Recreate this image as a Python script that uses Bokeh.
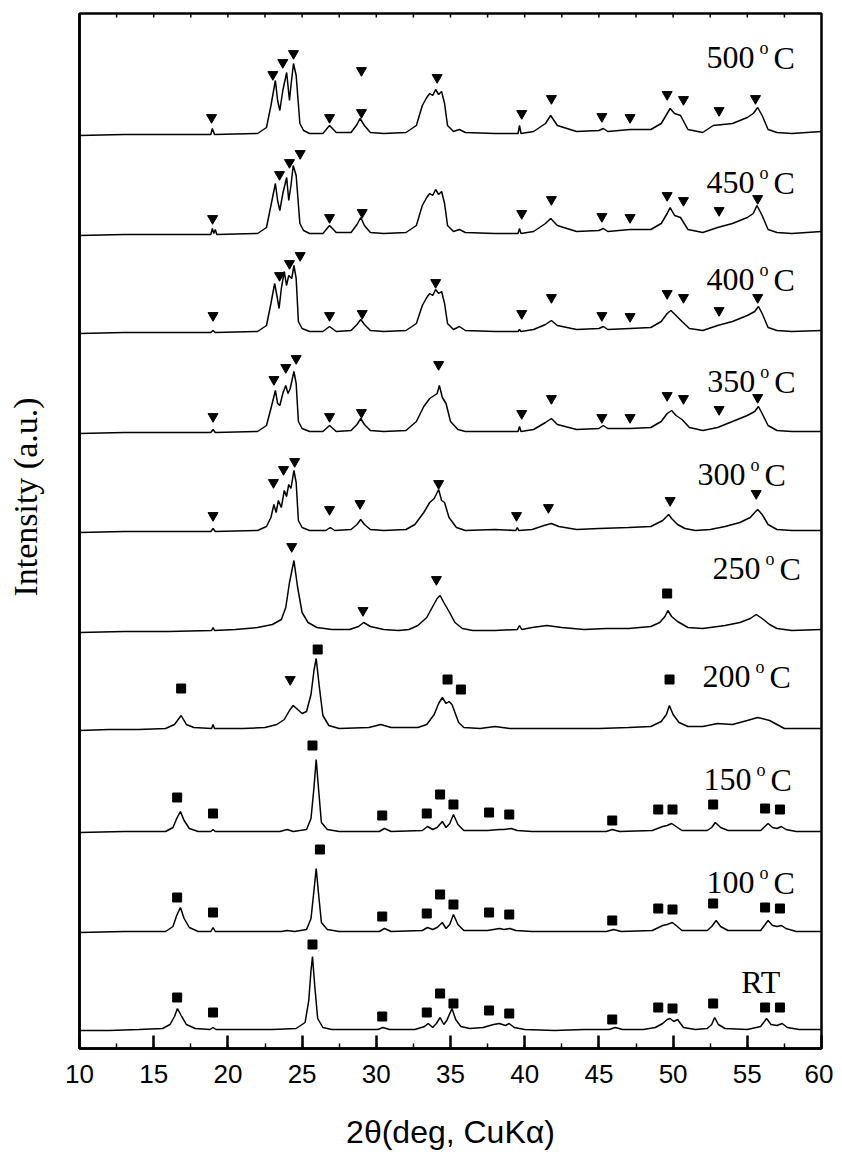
from bokeh.plotting import figure
from bokeh.models import SingleIntervalTicker, FixedTicker, ColumnDataSource
from bokeh.core.properties import value
from bokeh.embed import file_html
from bokeh.resources import INLINE

# ---------------- data ----------------
# x: 2-theta (deg); h: intensity above each pattern's own baseline (a.u.)
labels = ["RT", "100", "150", "200", "250", "300", "350", "400", "450", "500"]
offsets = [18, 116, 216, 318, 416, 516, 615, 715, 813, 913]

pattern = {
    "RT": [(10,0),(12,0),(14,1),(15.6,2),(16.1,6),(16.4,14),(16.6,22),(16.85,15),(17.2,6),(17.8,2),(18.8,1),(19.0,3),(19.2,1),(21,1),(23,1),(24.6,2),(25.2,8),(25.45,30),(25.6,60),(25.7,74),(25.85,45),(26.05,12),(26.4,3),(27,1),(28.5,1),(30.1,1),(30.45,3),(30.9,1),(32.6,1),(33.25,4),(33.5,7),(33.8,3),(34.05,7),(34.3,13),(34.55,6),(34.75,10),(35.1,22),(35.35,11),(35.7,4),(36.3,2),(37.2,3),(37.9,6),(38.3,7),(38.7,5),(38.95,7),(39.3,3),(40,1),(42,0),(44,1),(45.7,1),(46.1,3),(46.6,1),(48,1),(48.8,3),(49.3,7),(49.6,11),(49.8,12),(50.05,9),(50.3,11),(50.7,3),(51.5,1),(52.3,2),(52.6,6),(52.8,13),(53.05,6),(53.5,2),(55,1),(55.9,4),(56.3,12),(56.6,6),(57.0,5),(57.35,7),(57.7,3),(58.5,1),(60,1)],
    "100": [(10,0),(13,1),(15.8,1),(16.3,6),(16.55,17),(16.8,25),(17.05,14),(17.4,5),(18,1),(18.85,1),(19.0,5),(19.15,1),(22,1),(23.6,1),(24.0,2),(24.5,1),(25.3,3),(25.6,14),(25.8,42),(25.95,64),(26.1,40),(26.3,10),(26.7,3),(27.5,1),(30.2,1),(30.55,4),(31.0,1),(33.1,2),(33.45,5),(33.8,3),(34.1,5),(34.45,10),(34.7,4),(34.95,8),(35.2,18),(35.5,8),(35.9,2),(37.5,2),(38.3,4),(38.6,3),(39.0,4),(39.4,2),(40.5,1),(45.5,1),(46.0,3),(46.5,1),(48.6,2),(49.3,7),(49.6,8),(49.95,10),(50.2,7),(50.6,2),(52.3,2),(52.6,6),(52.9,12),(53.2,6),(53.7,2),(55.9,2),(56.4,12),(56.7,7),(57.0,6),(57.3,7),(57.6,4),(58.3,1),(60,1)],
    "150": [(10,0),(13,1),(15.8,1),(16.3,5),(16.55,14),(16.8,21),(17.05,12),(17.4,4),(18,1),(18.85,1),(19.0,3),(19.15,1),(22,1),(23.5,1),(24.0,3),(24.4,1),(25.3,3),(25.6,14),(25.8,45),(25.95,73),(26.1,45),(26.3,10),(26.7,3),(27.5,1),(30.2,1),(30.55,4),(31.0,1),(33.1,2),(33.45,6),(33.8,3),(34.1,5),(34.45,11),(34.7,5),(34.95,9),(35.2,18),(35.5,8),(35.9,2),(37.5,2),(38.3,3),(38.6,3),(39.1,4),(39.5,2),(40.5,1),(45.5,1),(45.9,3),(46.4,1),(48.6,2),(49.3,6),(49.6,7),(49.9,9),(50.2,6),(50.6,2),(52.3,2),(52.6,5),(52.85,10),(53.2,5),(53.7,2),(55.9,2),(56.4,9),(56.7,5),(57.0,4),(57.3,6),(57.6,3),(58.3,1),(60,1)],
    "200": [(10,0),(12,1),(14,1),(15.8,2),(16.4,6),(16.85,15),(17.2,6),(17.7,3),(18.9,2),(19.0,6),(19.1,2),(21,2),(22.5,3),(23.3,6),(23.8,11),(24.15,20),(24.4,25),(24.7,21),(25.0,17),(25.3,19),(25.6,36),(25.8,60),(25.95,72),(26.15,45),(26.4,15),(26.8,5),(27.5,2),(29.5,3),(30.3,6),(31.0,3),(32.8,3),(33.4,6),(33.9,16),(34.2,27),(34.45,33),(34.7,27),(34.9,29),(35.1,26),(35.3,18),(35.55,8),(35.9,3),(37.0,2),(38.0,4),(39.0,2),(42,2),(45,2),(47,3),(48.5,4),(49.2,9),(49.55,16),(49.75,25),(50.0,16),(50.4,8),(51.0,4),(52.0,4),(53.0,7),(54.0,6),(55.0,10),(55.7,13),(56.5,10),(57.0,6),(57.5,2),(60,2)],
    "250": [(10,0),(13,1),(16,1),(18.9,2),(19.0,5),(19.1,2),(20.5,3),(22.0,5),(23.0,8),(23.6,13),(23.9,25),(24.15,50),(24.45,72),(24.7,45),(25.0,20),(25.4,10),(26.0,5),(27.0,3),(28.2,3),(28.8,6),(29.15,10),(29.6,6),(30.5,3),(31.5,2),(32.2,3),(32.8,7),(33.4,15),(33.8,26),(34.1,34),(34.3,37),(34.55,30),(34.9,21),(35.3,10),(35.8,4),(36.5,2),(38.0,2),(39.5,3),(39.65,7),(39.8,3),(40.5,5),(41.5,7),(42.5,5),(44,3),(45.5,4),(47,4),(48.5,6),(49.1,10),(49.45,16),(49.65,22),(49.9,16),(50.3,11),(51.0,5),(52.0,4),(53.5,7),(54.5,10),(55.2,14),(55.6,18),(56.0,14),(56.5,8),(57.0,4),(58,2),(60,3)],
    "300": [(10,0),(13,1),(16,1),(18.85,1),(19.0,4),(19.15,1),(22.0,2),(22.6,6),(22.9,15),(23.1,28),(23.25,20),(23.4,32),(23.6,25),(23.8,42),(23.95,36),(24.1,48),(24.25,44),(24.45,62),(24.6,50),(24.75,12),(25.0,5),(25.5,2),(26.6,2),(26.9,5),(27.2,2),(28.3,3),(28.7,8),(28.95,13),(29.2,8),(29.6,3),(30.5,2),(32.0,3),(32.6,8),(33.2,20),(33.6,30),(33.9,34),(34.2,43),(34.4,32),(34.6,30),(34.9,15),(35.4,5),(36,2),(38,3),(39.4,2),(39.5,5),(39.6,2),(40.5,3),(41.3,7),(41.8,9),(42.3,6),(43.5,3),(45,4),(47,5),(48.5,6),(49.3,12),(49.7,18),(49.9,14),(50.3,8),(50.8,4),(51.5,2),(52.5,3),(53.5,6),(54.5,10),(55.2,15),(55.5,20),(55.7,23),(56.0,18),(56.4,8),(57.0,3),(58,2),(60,2)],
    "350": [(10,0),(13,1),(16,1),(18.85,1),(19.0,4),(19.15,1),(22.0,2),(22.6,8),(22.9,25),(23.2,43),(23.35,30),(23.5,28),(23.7,40),(23.9,48),(24.05,40),(24.2,45),(24.45,62),(24.6,50),(24.75,12),(25.0,5),(25.5,2),(26.4,2),(26.85,8),(27.3,2),(28.3,3),(28.7,9),(28.95,15),(29.2,9),(29.6,3),(30.5,2),(32.0,3),(32.7,12),(33.2,27),(33.6,35),(33.9,38),(34.1,40),(34.25,48),(34.45,36),(34.7,30),(35.0,12),(35.5,4),(36.0,2),(38,2),(39.55,2),(39.65,7),(39.75,2),(40.6,4),(41.4,11),(41.8,15),(42.2,9),(43.5,4),(45,5),(45.3,8),(45.6,5),(47.1,5),(48.5,6),(49.2,12),(49.6,20),(49.9,23),(50.2,18),(50.6,14),(51.1,6),(52.0,3),(53.0,6),(54.0,12),(55.0,18),(55.5,22),(55.75,27),(56.0,20),(56.4,8),(57.0,3),(58,2),(60,2)],
    "400": [(10,0),(13,1),(16,1),(18.85,1),(19.0,3),(19.15,1),(22.0,2),(22.6,8),(22.9,30),(23.15,50),(23.3,38),(23.45,25),(23.6,45),(23.8,62),(23.95,48),(24.1,58),(24.3,55),(24.45,68),(24.6,55),(24.75,12),(25.0,5),(25.5,2),(26.4,2),(26.85,7),(27.3,2),(28.3,3),(28.7,9),(28.95,14),(29.2,9),(29.6,3),(30.5,2),(32.0,3),(32.7,10),(33.1,28),(33.4,36),(33.6,40),(33.8,38),(34.0,44),(34.2,40),(34.4,42),(34.6,30),(34.8,10),(35.2,4),(35.6,7),(36.0,3),(38,2),(39.55,2),(39.65,4),(39.75,2),(40.6,4),(41.4,9),(41.8,13),(42.2,8),(43.5,4),(45,5),(45.3,7),(45.6,4),(47.1,5),(48.5,6),(49.2,12),(49.6,20),(49.85,23),(50.2,18),(50.6,12),(51.1,5),(52.0,3),(53.0,8),(54.0,12),(55.0,18),(55.5,22),(55.75,27),(56.0,20),(56.4,6),(57.0,3),(58,2),(60,3)],
    "450": [(10,0),(13,1),(16,1),(18.85,1),(18.95,7),(19.05,2),(19.15,6),(19.25,1),(22.0,2),(22.6,8),(22.9,30),(23.2,52),(23.35,35),(23.5,25),(23.7,42),(23.96,58),(24.1,35),(24.25,50),(24.4,70),(24.6,60),(24.85,12),(25.1,5),(25.5,2),(26.4,2),(26.85,10),(27.3,3),(28.3,3),(28.7,11),(28.95,18),(29.2,10),(29.6,3),(30.5,2),(32.0,3),(32.7,10),(33.1,30),(33.4,38),(33.6,42),(33.8,40),(34.0,46),(34.2,41),(34.4,44),(34.6,32),(34.8,10),(35.2,4),(35.6,6),(36.0,3),(38,2),(39.55,2),(39.65,7),(39.75,2),(40.6,4),(41.4,12),(41.75,17),(42.2,10),(43.5,4),(45,5),(45.3,7),(45.6,4),(47.1,6),(48.5,6),(49.2,12),(49.6,22),(49.8,28),(50.1,20),(50.5,18),(51.0,6),(52.0,3),(53.0,8),(54.0,12),(55.0,18),(55.4,22),(55.65,30),(56.0,20),(56.4,6),(57.0,3),(58,2),(60,4)],
    "500": [(10,0),(13,1),(16,1),(18.85,1),(18.95,7),(19.1,1),(22.0,2),(22.6,8),(22.9,30),(23.2,55),(23.35,35),(23.5,25),(23.7,45),(23.96,63),(24.15,35),(24.25,50),(24.42,72),(24.6,60),(24.85,12),(25.1,5),(25.5,2),(26.4,2),(26.85,10),(27.3,3),(28.3,3),(28.7,11),(28.9,17),(29.2,10),(29.6,3),(30.5,2),(32.0,3),(32.7,10),(33.1,30),(33.4,38),(33.6,42),(33.8,40),(34.0,46),(34.2,41),(34.4,44),(34.6,32),(34.8,10),(35.2,4),(35.6,6),(36.0,3),(38,2),(39.55,2),(39.65,10),(39.75,2),(40.6,4),(41.4,12),(41.75,20),(42.2,10),(43.5,4),(45,5),(45.3,7),(45.6,4),(47.1,6),(48.5,6),(49.2,12),(49.6,22),(49.8,27),(50.1,22),(50.5,20),(51.0,6),(52.0,3),(52.7,10),(54.0,12),(55.0,18),(55.4,22),(55.7,28),(56.0,20),(56.4,6),(57.0,3),(58,2),(60,4)],
}

# inverted triangles (phase 1) and squares (phase 2): (2theta, height above baseline)
triangles = {
    "500": [(18.9,18),(23.03,61),(23.7,73),(24.42,82),(26.85,18),(29.0,65),(29.0,23),(34.1,58),(39.8,22),(41.8,37),(45.2,19),(47.1,18),(49.6,41),(50.7,36),(53.1,25),(55.55,37)],
    "450": [(18.97,17),(23.48,61),(24.15,73),(24.87,82),(26.85,18),(29.05,23),(39.8,22),(41.8,36),(45.2,19),(47.1,18),(49.6,40),(50.7,35),(53.1,25),(55.7,37)],
    "400": [(19.0,18),(23.48,58),(24.15,70),(24.87,78),(26.85,18),(29.05,20),(34.0,51),(39.8,20),(41.8,36),(45.2,18),(47.1,17),(49.6,40),(50.7,36),(53.1,23),(55.7,36)],
    "350": [(19.0,17),(23.1,54),(23.9,66),(24.6,75),(26.85,17),(29.0,21),(34.2,69),(39.8,20),(41.8,35),(45.2,16),(47.1,16),(49.6,38),(50.7,35),(53.1,24),(55.7,36)],
    "300": [(19.0,17),(23.07,50),(23.75,63),(24.5,71),(26.85,23),(28.9,29),(34.2,49),(39.45,17),(41.6,25),(49.8,32),(55.6,39)],
    "250": [(24.3,86),(29.1,22),(34.05,53)],
    "200": [(24.2,51)],
}
squares = {
    "250": [(49.6,39)],
    "200": [(16.85,42),(26.05,81),(34.8,51),(35.7,41),(49.76,51)],
    "150": [(16.58,35),(19.0,19),(25.7,87),(30.4,17),(33.4,19),(34.3,38),(35.2,28),(37.6,20),(38.96,18),(45.9,12),(49.0,23),(49.96,23),(52.7,28),(56.2,24),(57.2,23)],
    "100": [(16.58,35),(19.0,20),(26.2,83),(30.4,16),(33.4,19),(34.3,38),(35.2,28),(37.6,20),(38.96,18),(45.9,12),(49.0,24),(49.96,23),(52.7,29),(56.2,25),(57.2,24)],
    "RT":  [(16.58,33),(19.0,18),(25.7,86),(30.4,14),(33.4,18),(34.3,37),(35.2,27),(37.6,20),(38.96,17),(45.9,11),(49.0,23),(49.96,22),(52.7,27),(56.2,23),(57.2,23)],
}

# curve labels: temperature text, anchor 2theta, anchor height (text baseline)
temp_text = ["500", "450", "400", "350", "300", "250", "200", "150", "100"]
temp_x = [52.25, 52.25, 52.25, 52.3, 51.64, 52.65, 51.98, 52.05, 52.25]
temp_y = [980, 855, 758, 656, 563, 469, 361, 258, 155]
rt_text = ["RT"]
rt_x = [54.6]
rt_y = [56]

top_ticks = [12.5, 15, 17.5, 20, 22.5, 25, 27.5, 30, 32.5, 35, 37.5, 40, 42.5, 45, 47.5, 50, 52.5, 55, 57.5]
x_label = "2\u03b8(deg, CuK\u03b1)"
y_label = "Intensity (a.u.)"

# ---------------- figure ----------------
p = figure(width=833, height=1152, x_range=(10, 60), y_range=(0, 1035),
           output_backend="svg", toolbar_location=None,
           min_border_left=79, min_border_right=12, min_border_top=13, min_border_bottom=104)
p.xgrid.visible = False
p.ygrid.visible = False
p.outline_line_color = "black"
p.outline_line_width = 2.5
p.background_fill_color = "white"
p.border_fill_color = "white"

xa = p.xaxis[0]
xa.ticker = SingleIntervalTicker(interval=5, num_minor_ticks=2)
xa.axis_line_width = 2.5
xa.major_tick_in = 13
xa.major_tick_out = 0
xa.major_tick_line_width = 2.5
xa.minor_tick_in = 5
xa.minor_tick_out = 0
xa.minor_tick_line_width = 1.5
xa.major_label_text_font = "Liberation Sans"
xa.major_label_text_font_size = "26px"
xa.major_label_text_color = "black"
xa.major_label_standoff = 16
xa.axis_label = x_label
xa.axis_label_text_font = "Liberation Sans"
xa.axis_label_text_font_size = "32px"
xa.axis_label_text_font_style = "normal"
xa.axis_label_text_color = "black"
xa.axis_label_standoff = 28

ya = p.yaxis[0]
ya.ticker = FixedTicker(ticks=[])
ya.axis_line_width = 2.5
ya.major_tick_in = 0
ya.major_tick_out = 0
ya.minor_tick_in = 0
ya.minor_tick_out = 0
# leading no-break spaces lift the visible label above the axis centre, as in the source figure
ya.axis_label = "\u00a0" * 8 + y_label
ya.axis_label_text_font = "Liberation Serif"
ya.axis_label_text_font_size = "34px"
ya.axis_label_text_font_style = "normal"
ya.axis_label_text_color = "black"
ya.axis_label_standoff = 36

# short inward ticks on the top frame line
p.segment(x0=top_ticks, y0=[1035] * len(top_ticks), x1=top_ticks, y1=[1031] * len(top_ticks),
          line_color="black", line_width=1.5)

for lab, off in zip(labels, offsets):
    pts = pattern[lab]
    xs = [a for a, b in pts]
    ys = [off + b for a, b in pts]
    p.line(xs, ys, line_color="black", line_width=1.5)
    if lab in triangles:
        tx = [a for a, b in triangles[lab]]
        ty = [off + b for a, b in triangles[lab]]
        p.scatter(tx, ty, marker="inverted_triangle", size=10, color="black")
    if lab in squares:
        sx = [a for a, b in squares[lab]]
        sy = [off + b for a, b in squares[lab]]
        p.scatter(sx, sy, marker="square", size=9, color="black")

serif = value("Liberation Serif")
lift = -11  # the SVG text baseline sits a little low; lift the labels onto their baseline
tsrc = ColumnDataSource(dict(x=temp_x, y=temp_y, t=temp_text,
                             o=["o"] * len(temp_text), c=["C"] * len(temp_text)))
p.text(x="x", y="y", text="t", source=tsrc, text_font=serif,
       text_font_size="32px", text_baseline="alphabetic", text_align="left", text_color="black",
       y_offset=lift)
p.text(x="x", y="y", text="o", source=tsrc, text_font=serif,
       text_font_size="18px", text_baseline="alphabetic", text_align="left", text_color="black",
       x_offset=53, y_offset=lift - 10)
p.text(x="x", y="y", text="c", source=tsrc, text_font=serif,
       text_font_size="32px", text_baseline="alphabetic", text_align="left", text_color="black",
       x_offset=67, y_offset=lift)
p.text(x=rt_x, y=rt_y, text=rt_text, text_font=serif,
       text_font_size="32px", text_baseline="alphabetic", text_align="left", text_color="black",
       y_offset=lift)

open("out.html", "w").write(file_html(p, INLINE))
